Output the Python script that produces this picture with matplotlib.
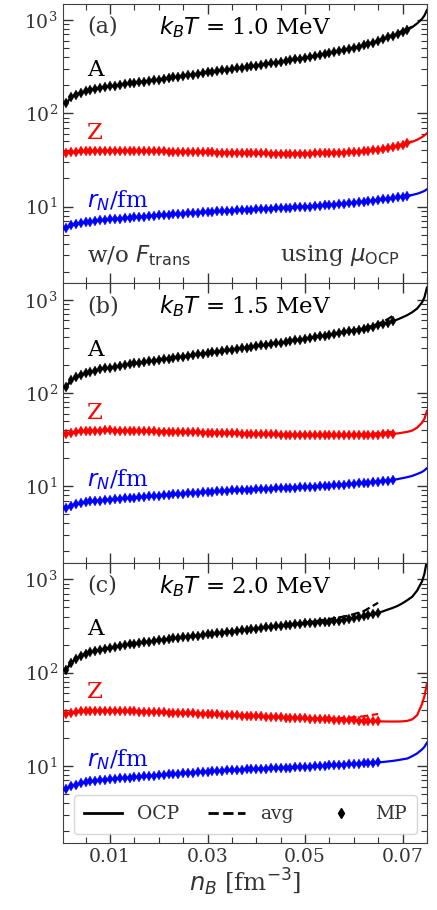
import matplotlib
matplotlib.use("Agg")
import matplotlib.pyplot as plt
from matplotlib.ticker import MultipleLocator, FixedLocator

plt.rcParams['font.family'] = ['DejaVu Serif']
plt.rcParams['mathtext.fontset'] = 'dejavusans'
plt.rcParams['font.size'] = 13

# density grid (fm^-3) on which the curves were read: 0.001 ... 0.071,
# OCP continues with the tail points up to the right edge
nB = [k / 1000 for k in range(1, 72)]
nB_tail = [0.072, 0.073, 0.074, 0.0745, 0.075]

temps = ["1.0", "1.5", "2.0"]
panel_tags = ["(a)", "(b)", "(c)"]
n_mp = [71, 68, 65]   # MP markers stop at 0.071, 0.068, 0.065

# ---- kT = 1.0 MeV
A_a = [128, 148, 158, 166, 172, 177, 182, 186, 190, 194,
       198, 202, 205, 209, 212, 216, 219, 223, 226, 229,
       233, 238, 242, 247, 251, 256, 260, 265, 269, 274,
       278, 283, 288, 293, 298, 303, 308, 313, 318, 324,
       330, 336, 343, 349, 356, 363, 370, 378, 386, 394,
       403, 412, 422, 432, 442, 453, 464, 477, 490, 504,
       518, 534, 550, 572, 595, 622, 650, 680, 710, 745,
       780]
A_a_tail = [840, 920, 1030, 1120, 1280]
Z_a = [37.3, 38.0, 38.6, 39.0, 39.2, 39.4, 39.5, 39.6, 39.6, 39.6,
       39.6, 39.6, 39.5, 39.5, 39.4, 39.4, 39.3, 39.3, 39.2, 39.1,
       39.0, 38.9, 38.8, 38.7, 38.6, 38.5, 38.4, 38.3, 38.2, 38.1,
       38.0, 37.9, 37.8, 37.7, 37.6, 37.5, 37.4, 37.3, 37.2, 37.15,
       37.1, 37.05, 37.0, 36.95, 36.9, 36.9, 36.9, 36.9, 36.9, 36.95,
       37.0, 37.05, 37.1, 37.2, 37.3, 37.45, 37.6, 37.8, 38.0, 38.3,
       38.6, 39.0, 39.5, 40.1, 40.7, 41.5, 42.3, 43.3, 44.5, 45.9,
       47.5]
Z_a_tail = [49.5, 52, 55.5, 58, 61]
r_a = [5.9, 6.3, 6.5, 6.65, 6.8, 6.9, 7.0, 7.1, 7.2, 7.28,
       7.35, 7.42, 7.5, 7.58, 7.65, 7.72, 7.8, 7.88, 7.95, 8.02,
       8.1, 8.18, 8.25, 8.32, 8.4, 8.45, 8.5, 8.58, 8.65, 8.72,
       8.8, 8.85, 8.9, 8.95, 9.0, 9.08, 9.15, 9.2, 9.25, 9.32,
       9.4, 9.45, 9.5, 9.55, 9.6, 9.68, 9.75, 9.82, 9.9, 9.95,
       10.0, 10.1, 10.2, 10.3, 10.4, 10.5, 10.6, 10.7, 10.8, 10.95,
       11.1, 11.25, 11.4, 11.55, 11.7, 11.9, 12.1, 12.3, 12.5, 12.75,
       13.0]
r_a_tail = [13.3, 13.7, 14.3, 14.7, 15.3]

# ---- kT = 1.5 MeV
A_b = [115, 138, 147, 156, 163, 169, 174, 179, 183, 187,
       191, 195, 199, 203, 207, 210, 214, 218, 222, 226,
       230, 234, 238, 242, 246, 250, 255, 259, 264, 268,
       273, 277, 282, 287, 292, 297, 302, 307, 312, 317,
       323, 328, 334, 340, 346, 352, 359, 366, 373, 380,
       388, 396, 404, 412, 420, 429, 438, 447, 457, 467,
       478, 490, 502, 515, 530, 546, 565, 588, 615, 648,
       685]
A_b_tail = [735, 805, 935, 1060, 1350]
Z_b = [36.6, 37.6, 38.3, 38.7, 39.0, 39.2, 39.4, 39.5, 39.6, 39.6,
       39.5, 39.4, 39.3, 39.2, 39.1, 39.0, 38.9, 38.75, 38.6, 38.5,
       38.4, 38.3, 38.2, 38.1, 38.0, 37.9, 37.8, 37.7, 37.6, 37.5,
       37.4, 37.25, 37.1, 37.0, 36.9, 36.75, 36.6, 36.5, 36.4, 36.3,
       36.2, 36.1, 36.0, 35.9, 35.8, 35.7, 35.6, 35.5, 35.4, 35.35,
       35.3, 35.25, 35.2, 35.2, 35.2, 35.2, 35.2, 35.25, 35.3, 35.35,
       35.4, 35.5, 35.6, 35.7, 35.8, 35.95, 36.1, 36.4, 36.8, 37.5,
       38.3]
Z_b_tail = [39.5, 42.5, 48, 53, 64]
r_b = [5.8, 6.2, 6.4, 6.55, 6.7, 6.85, 6.95, 7.02, 7.1, 7.18,
       7.25, 7.32, 7.4, 7.48, 7.55, 7.62, 7.7, 7.78, 7.85, 7.92,
       8.0, 8.08, 8.15, 8.22, 8.3, 8.38, 8.45, 8.52, 8.6, 8.68,
       8.75, 8.8, 8.85, 8.92, 9.0, 9.05, 9.1, 9.15, 9.2, 9.25,
       9.3, 9.35, 9.4, 9.45, 9.5, 9.55, 9.6, 9.65, 9.7, 9.78,
       9.85, 9.92, 10.0, 10.08, 10.15, 10.22, 10.3, 10.4, 10.5, 10.6,
       10.7, 10.82, 10.95, 11.08, 11.2, 11.35, 11.5, 11.7, 11.9, 12.2,
       12.5]
r_b_tail = [12.9, 13.5, 14.2, 14.8, 15.6]

# ---- kT = 2.0 MeV
A_c = [107, 128, 140, 152, 160, 166, 171, 176, 181, 185,
       189, 193, 197, 201, 205, 208, 212, 215, 219, 222,
       226, 229, 233, 236, 240, 243, 247, 250, 254, 257,
       261, 264, 268, 272, 276, 280, 284, 288, 292, 297,
       303, 306, 310, 314, 318, 322, 326, 330, 334, 338,
       341, 344, 347, 350, 353, 357, 362, 369, 376, 384,
       392, 402, 412, 424, 436, 455, 475, 495, 520, 555,
       600]
A_c_tail = [652, 760, 950, 1150, 1600]
Z_c = [36.0, 37.3, 38.0, 38.4, 38.7, 38.9, 39.0, 39.0, 39.0, 39.0,
       38.9, 38.8, 38.7, 38.55, 38.4, 38.25, 38.1, 37.95, 37.8, 37.65,
       37.5, 37.35, 37.2, 37.0, 36.8, 36.65, 36.5, 36.3, 36.1, 35.95,
       35.8, 35.6, 35.4, 35.2, 35.0, 34.8, 34.6, 34.45, 34.3, 34.1,
       33.9, 33.7, 33.5, 33.35, 33.2, 33.0, 32.8, 32.65, 32.5, 32.35,
       32.2, 32.0, 31.8, 31.65, 31.5, 31.35, 31.2, 31.05, 30.9, 30.7,
       30.5, 30.35, 30.2, 30.1, 30.0, 29.95, 29.9, 29.9, 29.9, 30.0,
       30.4]
Z_c_tail = [31.5, 35, 46, 56, 76]
r_c = [5.65, 6.1, 6.3, 6.5, 6.65, 6.8, 6.9, 7.0, 7.1, 7.18,
       7.25, 7.32, 7.4, 7.48, 7.55, 7.62, 7.7, 7.78, 7.85, 7.92,
       8.0, 8.08, 8.15, 8.22, 8.3, 8.38, 8.45, 8.52, 8.6, 8.68,
       8.75, 8.8, 8.85, 8.92, 9.0, 9.05, 9.1, 9.15, 9.2, 9.25,
       9.3, 9.35, 9.4, 9.45, 9.5, 9.55, 9.6, 9.65, 9.7, 9.75,
       9.8, 9.88, 9.95, 10.02, 10.1, 10.18, 10.25, 10.32, 10.4, 10.48,
       10.55, 10.62, 10.7, 10.8, 10.9, 11.0, 11.15, 11.3, 11.5, 11.75,
       12.0]
r_c_tail = [12.7, 13.6, 15.0, 16.0, 17.7]

# averaged (avg) results
nB_avg = [[0.001, 0.002, 0.003, 0.005, 0.008, 0.012, 0.02, 0.03, 0.04, 0.05,
           0.06, 0.065, 0.067, 0.069, 0.071, 0.072],
          [0.001, 0.002, 0.003, 0.005, 0.008, 0.012, 0.02, 0.03, 0.04, 0.05,
           0.06, 0.063, 0.065, 0.067, 0.068],
          [0.001, 0.002, 0.003, 0.005, 0.008, 0.012, 0.02, 0.03, 0.04, 0.045,
           0.05, 0.053, 0.056, 0.059, 0.062, 0.065]]
A_avg = [[128, 148, 158, 172, 186, 202, 229, 274, 324, 394, 504, 598, 660, 728, 805, 850],
         [115, 138, 147, 163, 179, 195, 226, 268, 317, 380, 470, 510, 550, 620, 670],
         [107, 128, 140, 160, 176, 193, 222, 257, 297, 320, 346, 362, 382, 410, 455, 562]]
Z_avg = [[37.3, 38.0, 38.6, 39.2, 39.6, 39.6, 39.1, 38.1, 37.15, 36.95, 38.3, 40.9,
          42.6, 45.2, 48.4, 50.0],
         [36.6, 37.6, 38.3, 39.0, 39.5, 39.4, 38.5, 37.5, 36.3, 35.35, 35.5, 36.3,
          37.0, 37.8, 38.3],
         [36.0, 37.3, 38.0, 38.7, 39.0, 38.8, 37.65, 35.95, 34.1, 33.3, 32.4, 32.1,
          32.2, 32.8, 34.0, 36.0]]
r_avg = [[5.9, 6.3, 6.5, 6.8, 7.1, 7.42, 8.02, 8.72, 9.32, 9.95, 10.95, 11.7,
          12.1, 12.5, 13.0, 13.3],
         [5.8, 6.2, 6.4, 6.7, 7.02, 7.32, 7.92, 8.68, 9.25, 9.78, 10.6, 10.95,
          11.2, 11.5, 11.7],
         [5.65, 6.1, 6.3, 6.65, 7.0, 7.32, 7.92, 8.68, 9.25, 9.5, 9.75, 9.95,
          10.18, 10.4, 10.62, 10.9]]

series = [(A_a, A_a_tail, Z_a, Z_a_tail, r_a, r_a_tail),
          (A_b, A_b_tail, Z_b, Z_b_tail, r_b, r_b_tail),
          (A_c, A_c_tail, Z_c, Z_c_tail, r_c, r_c_tail)]
colors = ["black", "red", "blue"]
names = ["A", "Z", r"$r_N$/fm"]
name_y = [0.763, 0.538, 0.297]

fig, axes = plt.subplots(3, 1, figsize=(4.37, 9.1), dpi=100, sharex=True)
fig.subplots_adjust(left=0.1435, right=0.978, top=0.996, bottom=0.074, hspace=0)

x_all = nB + nB_tail
for i, ax in enumerate(axes):
    vals = series[i]
    avgs = [A_avg[i], Z_avg[i], r_avg[i]]
    for k in range(3):
        y = vals[2 * k]
        c = colors[k]
        ax.plot(x_all, y + vals[2 * k + 1], '-', color=c, lw=1.6, zorder=2)
        ax.plot(nB_avg[i], avgs[k], '--', color=c, lw=1.6, zorder=2)
        m = n_mp[i]
        ax.plot(nB[:m], y[:m], 'd', color=c, ms=5.5, mew=0.3, zorder=3)
        ax.text(0.067, name_y[k], names[k], color=c, transform=ax.transAxes,
                fontsize=16.5, va='center', ha='left')
    ax.text(0.067, 0.918, panel_tags[i], transform=ax.transAxes, fontsize=16,
            va='center', ha='left', color='0.2')
    ax.text(0.5, 0.918, r"$k_BT$ = " + temps[i] + " MeV", transform=ax.transAxes,
            fontsize=16.5, va='center', ha='center')
    ax.set_yscale('log')
    ax.set_ylim(1.5, 1500)
    ax.set_xlim(0.0003, 0.0751)
    ax.xaxis.set_major_locator(FixedLocator([0.01, 0.03, 0.05, 0.07]))
    ax.xaxis.set_minor_locator(MultipleLocator(0.005))
    ax.tick_params(which='both', direction='in', top=True, right=True, colors='0.2',
                   labelsize=13.5)
    ax.tick_params(which='major', length=7, width=1)
    ax.tick_params(which='minor', length=4, width=0.8)
    for s in ax.spines.values():
        s.set_color('0.25')

axes[0].text(0.067, 0.10, r"w/o $F_{\rm trans}$", transform=axes[0].transAxes,
             fontsize=16.5, va='center', ha='left', color='0.2')
axes[0].text(0.924, 0.10, r"using $\mu_{\rm OCP}$", transform=axes[0].transAxes,
             fontsize=16.5, va='center', ha='right', color='0.2')

axes[2].set_xticklabels(["0.01", "0.03", "0.05", "0.07"])
axes[2].set_xlabel(r"$n_B$ [fm$^{-3}$]", fontsize=17.5, color='0.2', labelpad=1)

h1, = axes[2].plot([], [], '-', color='black', lw=2)
h2, = axes[2].plot([], [], '--', color='black', lw=2)
h3, = axes[2].plot([], [], 'd', color='black', ms=5)
axes[2].legend([h1, h2, h3], ["OCP", "avg", "MP"], ncol=3, loc='lower left',
               bbox_to_anchor=(0.031, 0.032, 0.94, 0.2), mode='expand', fontsize=13.5,
               handlelength=2.0, borderpad=0.55, borderaxespad=0, labelcolor='0.2')

fig.savefig("out.png", dpi=100)
